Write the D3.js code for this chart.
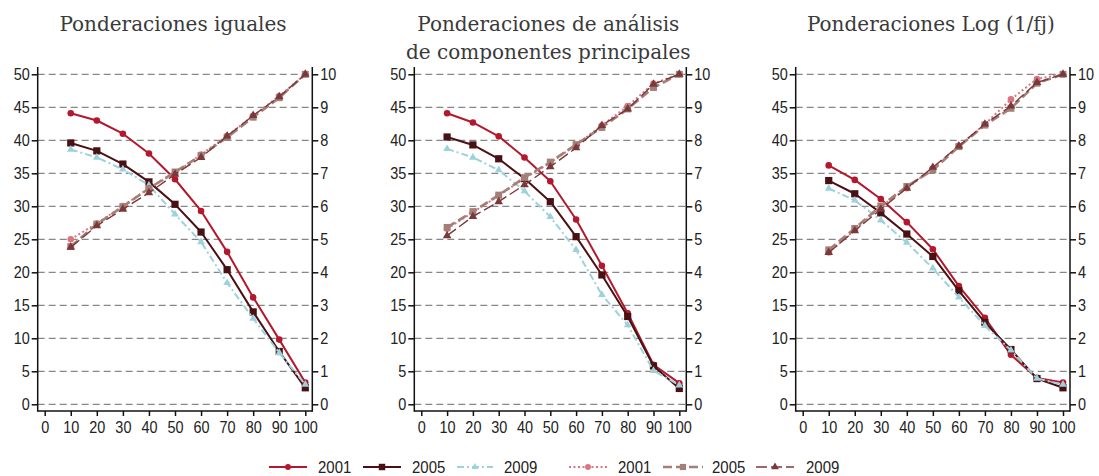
<!DOCTYPE html>
<html><head><meta charset="utf-8">
<script src="https://cdn.jsdelivr.net/npm/d3@7"></script>
<style>
body{margin:0;background:#fff;}
svg{display:block;}
.tick text{font-family:"Liberation Sans",Arial,sans-serif;font-size:17px;fill:#222;}
</style></head>
<body>
<svg id="chart" width="1099" height="476"></svg>
<script>
// ---- data ----
const deciles = [10, 20, 30, 40, 50, 60, 70, 80, 90, 100];
const xTicks = [0, 10, 20, 30, 40, 50, 60, 70, 80, 90, 100];
const yLeftTicks = [0, 5, 10, 15, 20, 25, 30, 35, 40, 45, 50];
const yRightTicks = [0, 1, 2, 3, 4, 5, 6, 7, 8, 9, 10];
const legendLabels = ["2001", "2005", "2009", "2001", "2005", "2009"];
const panelTitles = [
  ["Ponderaciones iguales"],
  ["Ponderaciones de análisis", "de componentes principales"],
  ["Ponderaciones Log (1/fj)"]
];

// Ponderaciones iguales
const igual2001 = [44.1, 43.0, 41.0, 38.0, 34.1, 29.3, 23.1, 16.2, 9.8, 3.3];
const igual2005 = [39.6, 38.4, 36.4, 33.7, 30.3, 26.1, 20.4, 14.0, 8.0, 2.5];
const igual2009 = [38.6, 37.4, 35.6, 33.2, 28.8, 24.6, 18.4, 13.0, 7.8, 3.0];
const igual2001R = [5.0, 5.48, 6.01, 6.55, 7.0, 7.57, 8.13, 8.74, 9.34, 10];
const igual2005R = [4.78, 5.46, 5.99, 6.54, 7.04, 7.54, 8.09, 8.70, 9.29, 10];
const igual2009R = [4.76, 5.41, 5.91, 6.41, 6.97, 7.48, 8.13, 8.75, 9.32, 10];

// Ponderaciones de análisis de componentes principales
const acp2001 = [44.1, 42.7, 40.6, 37.4, 33.8, 28.0, 21.0, 13.8, 6.0, 3.2];
const acp2005 = [40.5, 39.3, 37.2, 34.2, 30.7, 25.4, 19.6, 13.3, 5.8, 2.4];
const acp2009 = [38.7, 37.4, 35.5, 32.3, 28.4, 23.4, 16.6, 12.0, 5.1, 2.9];
const acp2001R = [5.32, 5.82, 6.32, 6.85, 7.32, 7.86, 8.45, 9.04, 9.72, 10];
const acp2005R = [5.36, 5.84, 6.34, 6.87, 7.34, 7.87, 8.39, 8.95, 9.6, 10];
const acp2009R = [5.11, 5.69, 6.14, 6.65, 7.2, 7.77, 8.45, 8.95, 9.7, 10];

// Ponderaciones Log (1/fj)
const log2001 = [36.2, 34.0, 31.1, 27.6, 23.5, 17.9, 13.1, 7.5, 4.0, 3.3];
const log2005 = [33.9, 31.9, 29.0, 25.8, 22.4, 17.2, 12.4, 8.3, 3.9, 2.5];
const log2009 = [32.7, 30.9, 27.9, 24.5, 20.6, 16.2, 11.9, 8.2, 3.9, 3.0];
const log2001R = [4.6, 5.28, 5.99, 6.55, 7.15, 7.83, 8.49, 9.24, 9.86, 10];
const log2005R = [4.68, 5.33, 6.01, 6.6, 7.1, 7.81, 8.46, 8.97, 9.73, 10];
const log2009R = [4.6, 5.26, 5.91, 6.55, 7.18, 7.83, 8.49, 9.04, 9.75, 10];

// ---- styles ----
const styles = [
  {color:"#b3182d", width:2,   dash:null,       marker:"circle",   size:34, axis:"L"},
  {color:"#4a1114", width:2,   dash:null,       marker:"square",   size:52, axis:"L"},
  {color:"#9dd2dc", width:2,   dash:"7,3,2,3",  marker:"triangle", size:26, axis:"L"},
  {color:"#d97682", width:2,   dash:"2,2.5",    marker:"circle",   size:34, axis:"R"},
  {color:"#a47f77", width:2.6, dash:"9,4",      marker:"square",   size:48, axis:"R"},
  {color:"#7a383b", width:1.4, dash:"11,4",     marker:"triangle", size:32, axis:"R"}
];

const panelSeries = [
  [igual2001, igual2005, igual2009, igual2001R, igual2005R, igual2009R],
  [acp2001, acp2005, acp2009, acp2001R, acp2005R, acp2009R],
  [log2001, log2005, log2009, log2001R, log2005R, log2009R]
];

// ---- layout ----
const panelsX = [[37.7, 312.3], [414.3, 686.3], [795.7, 1070]];
const plotTop = 67, axisBottom = 411, yTop = 74.3, yBottom = 404.3;
const condense = 0.85;

const svg = d3.select("#chart");
const symbolType = {circle:d3.symbolCircle, square:d3.symbolSquare, triangle:d3.symbolTriangle};

function narrow(sel, f) {
  sel.each(function() {
    const t = d3.select(this);
    const x = +t.attr("x") || 0;
    t.attr("x", 0).attr("transform", `translate(${x},0) scale(${f},1)`);
  });
}

panelsX.forEach(([L, R], p) => {
  const g = svg.append("g");
  const x = d3.scaleLinear().domain([0, 100]).range([L + 7, R - 7]);
  const yL = d3.scaleLinear().domain([0, 50]).range([yBottom, yTop]);
  const yR = d3.scaleLinear().domain([0, 10]).range([yBottom, yTop]);

  // gridlines
  g.selectAll("line.grid").data(yLeftTicks).join("line")
    .attr("x1", L).attr("x2", R)
    .attr("y1", d => yL(d)).attr("y2", d => yL(d))
    .attr("stroke", "#6a6a6a").attr("stroke-width", 1)
    .attr("stroke-dasharray", "7,4");

  // axes
  const ga = g.append("g").attr("transform", `translate(${L},0)`)
    .call(d3.axisLeft(yL).tickValues(yLeftTicks).tickSize(6).tickPadding(2).tickSizeOuter(0));
  const gr = g.append("g").attr("transform", `translate(${R},0)`)
    .call(d3.axisRight(yR).tickValues(yRightTicks).tickSize(6).tickPadding(2).tickSizeOuter(0));
  const gb = g.append("g").attr("transform", `translate(0,${axisBottom})`)
    .call(d3.axisBottom(x).tickValues(xTicks).tickSize(5).tickPadding(5).tickSizeOuter(0));
  [ga, gr, gb].forEach(a => {
    a.select(".domain").remove();
    a.selectAll(".tick line").attr("stroke", "#111").attr("stroke-width", 1.5);
    narrow(a.selectAll(".tick text"), condense);
  });

  // axis lines
  g.append("line").attr("x1", L).attr("x2", L).attr("y1", plotTop).attr("y2", axisBottom + 0.75)
    .attr("stroke", "#111").attr("stroke-width", 1.5);
  g.append("line").attr("x1", R).attr("x2", R).attr("y1", plotTop).attr("y2", axisBottom + 0.75)
    .attr("stroke", "#111").attr("stroke-width", 1.5);
  g.append("line").attr("x1", L).attr("x2", R).attr("y1", axisBottom).attr("y2", axisBottom)
    .attr("stroke", "#111").attr("stroke-width", 1.5);

  // series
  panelSeries[p].forEach((vals, i) => {
    const st = styles[i];
    const ys = st.axis === "L" ? yL : yR;
    const pts = deciles.map((d, k) => [x(d), ys(vals[k])]);
    g.append("path").attr("d", d3.line()(pts))
      .attr("fill", "none").attr("stroke", st.color).attr("stroke-width", st.width)
      .attr("stroke-dasharray", st.dash).attr("stroke-linejoin", "round");
    g.selectAll(null).data(pts).join("path")
      .attr("transform", d => `translate(${d[0]},${d[1]})`)
      .attr("d", d3.symbol().type(symbolType[st.marker]).size(st.size))
      .attr("fill", st.color);
  });

  // title
  const cx = (L + R) / 2 - 2;
  panelTitles[p].forEach((t, k) => {
    svg.append("text").attr("x", cx).attr("y", 31 + k * 28)
      .attr("text-anchor", "middle")
      .attr("font-family", "'DejaVu Serif', serif")
      .attr("font-size", 20).attr("fill", "#3a3a3a").text(t);
  });
});

// legend
const legSym = [[269, 307], [363, 401], [457, 493], [569, 607], [663, 703], [756, 794]];
const legTextX = [318, 412, 504, 618, 712, 806];
const legY = 467;
const lg = svg.append("g");
styles.forEach((st, i) => {
  const [a, b] = legSym[i];
  lg.append("line").attr("x1", a).attr("x2", b).attr("y1", legY).attr("y2", legY)
    .attr("stroke", st.color).attr("stroke-width", st.width).attr("stroke-dasharray", st.dash);
  lg.append("path").attr("transform", `translate(${(a + b) / 2},${legY})`)
    .attr("d", d3.symbol().type(symbolType[st.marker]).size(st.size * 0.8)).attr("fill", st.color);
  lg.append("text").attr("transform", `translate(${legTextX[i]},${legY + 6}) scale(0.88,1)`)
    .attr("font-family", "'Liberation Sans',Arial,sans-serif")
    .attr("font-size", 17).attr("fill", "#222").text(legendLabels[i]);
});
</script>
</body></html>
